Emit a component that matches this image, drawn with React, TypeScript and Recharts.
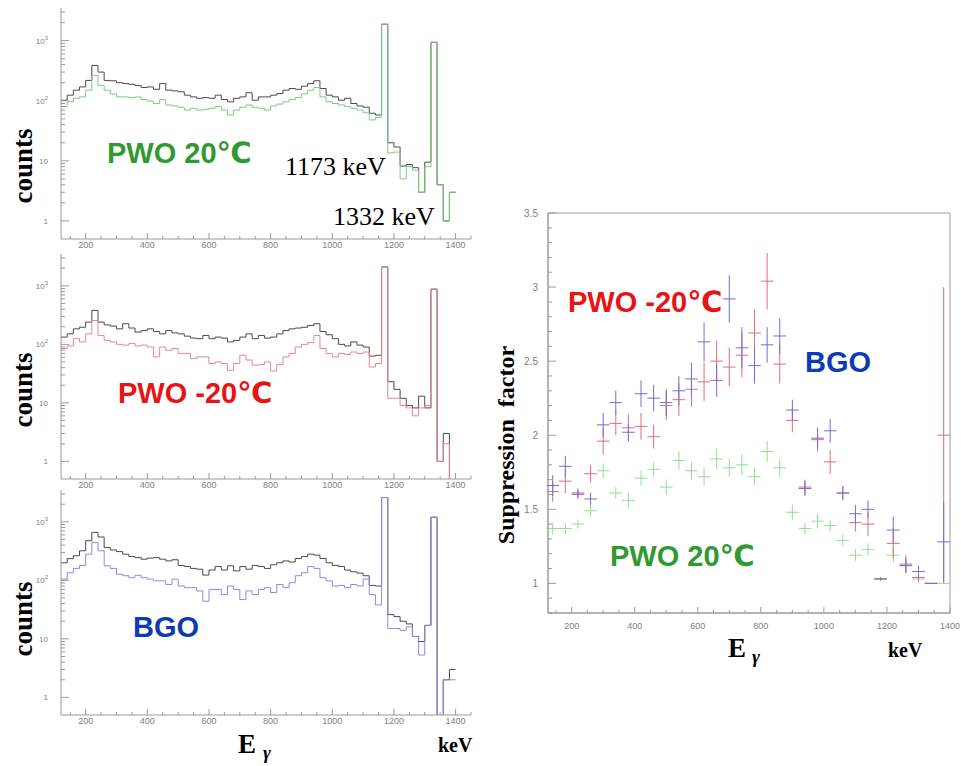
import React from "react";
import {
  LineChart,
  Line,
  XAxis,
  YAxis,
  ScatterChart,
  Scatter,
  ErrorBar,
  ReferenceArea,
} from "recharts";

// histogram bins, 20 keV wide: low edge of each bin
const binLow = [
  120, 140, 160, 180, 200, 220, 240, 260, 280, 300,
  320, 340, 360, 380, 400, 420, 440, 460, 480, 500,
  520, 540, 560, 580, 600, 620, 640, 660, 680, 700,
  720, 740, 760, 780, 800, 820, 840, 860, 880, 900,
  920, 940, 960, 980, 1000, 1020, 1040, 1060, 1080, 1100,
  1120, 1140, 1160, 1180, 1200, 1220, 1240, 1260, 1280, 1300,
  1320, 1340, 1360, 1380,
];
const BIN_END = 1400;

// PWO 20°C panel: unsuppressed (grey) and suppressed (green)
const pwoWarmRaw = [
  102, 124, 150, 170, 218, 387, 300, 218, 215, 200,
  193, 188, 180, 166, 170, 155, 193, 150, 146, 141,
  124, 116, 110, 113, 110, 124, 105, 96, 110, 116,
  136, 102, 116, 116, 124, 132, 150, 160, 155, 175,
  193, 215, 160, 124, 116, 102, 110, 90, 82, 78,
  62, 58, 1880, 20, 17, 8.2, 8.7, 7.7, 3, 9.5,
  940, 4, 1, 3,
];
const pwoWarmSup = [
  80, 96, 110, 116, 150, 265, 180, 150, 130, 116,
  116, 113, 116, 105, 99, 90, 105, 85, 82, 78,
  70, 75, 70, 72, 75, 80, 70, 58, 70, 78,
  85, 78, 75, 70, 82, 88, 96, 105, 113, 130,
  150, 166, 116, 96, 90, 85, 80, 75, 70, 63,
  48, 53, 1880, 13.5, 14, 5, 8, 7, 3, 8,
  940, 4, 1, 3,
];

// PWO -20°C panel
const pwoColdRaw = [
  133, 151, 184, 196, 240, 380, 240, 215, 205, 184,
  225, 190, 162, 172, 184, 166, 151, 172, 157, 151,
  138, 128, 125, 142, 125, 133, 128, 110, 117, 133,
  151, 125, 142, 128, 133, 151, 172, 184, 190, 196,
  210, 225, 166, 146, 125, 100, 94, 110, 97, 90,
  63, 65, 2100, 23, 17, 12, 9, 8.2, 13, 8.2,
  880, 1, 3, 0,
];
const pwoColdSup = [
  85, 94, 125, 110, 151, 255, 142, 117, 110, 100,
  97, 103, 94, 97, 90, 61, 90, 79, 85, 70,
  70, 57, 61, 61, 47, 50, 47, 36, 47, 65,
  54, 44, 45, 50, 35, 45, 61, 70, 90, 100,
  107, 142, 85, 70, 61, 70, 67, 74, 70, 74,
  41, 47, 2100, 12, 12, 9, 8.2, 6, 8.2, 9,
  880, 1, 2, 0,
];

// BGO panel
const bgoRaw = [
  200, 235, 263, 320, 475, 660, 550, 365, 330, 310,
  280, 255, 245, 230, 240, 245, 230, 215, 225, 180,
  172, 160, 155, 123, 150, 172, 150, 177, 145, 172,
  155, 180, 172, 160, 185, 200, 215, 206, 236, 255,
  280, 270, 236, 200, 180, 172, 150, 140, 133, 120,
  82, 80, 2600, 26, 24, 20, 18, 11, 9, 17,
  1200, 0, 2, 3,
];
const bgoSup = [
  105, 135, 160, 180, 280, 445, 320, 177, 160, 127,
  120, 111, 122, 111, 105, 98, 98, 85, 105, 80,
  75, 75, 66, 44, 70, 70, 57, 80, 70, 47,
  66, 57, 70, 75, 62, 85, 75, 91, 120, 135,
  172, 160, 111, 98, 80, 82, 75, 85, 80, 105,
  57, 38, 2600, 15, 15, 14, 16, 11, 5.3, 17,
  1200, 0, 2, 2,
];

// suppression factor, 40 keV bins
const sfEnergy = [
  140, 180, 220, 260, 300, 340, 380, 420, 460, 500,
  540, 580, 620, 660, 700, 740, 780, 820, 860, 900,
  940, 980, 1020, 1060, 1100, 1140, 1180, 1220, 1260, 1300,
  1340, 1380,
];
const BIN_HALF = 20;
const sfPwoCold = [
  1.62, 1.69, 1.6, 1.74, 1.96, 2.08, 2.05, 2.06, 1.99, 2.2,
  2.24, 2.31, 2.36, 2.5, 2.46, 2.54, 2.69, 3.04, 2.48, 2.1,
  1.65, 1.97, 1.82, 1.61, 1.41, 1.4, 1.03, 1.27, 1.13, 1.04,
  1.0, 2.0,
];
const sfPwoColdErr = [
  0.07, 0.08, 0.03, 0.06, 0.09, 0.08, 0.09, 0.09, 0.08, 0.1,
  0.11, 0.12, 0.13, 0.14, 0.13, 0.15, 0.16, 0.19, 0.13, 0.08,
  0.05, 0.08, 0.08, 0.05, 0.06, 0.08, 0.01, 0.1, 0.06, 0.03,
  0, 1.0,
];
const sfBgo = [
  1.66, 1.79, 1.61, 1.57, 2.07, 2.22, 2.02, 2.28, 2.25, 2.22,
  2.3, 2.38, 2.63, 2.37, 2.92, 2.59, 2.47, 2.61, 2.67, 2.17,
  1.64, 1.98, 2.03, 1.61, 1.47, 1.5, 1.03, 1.36, 1.12, 1.08,
  1.0, 1.28,
];
const sfBgoErr = [
  0.07, 0.07, 0.03, 0.04, 0.08, 0.08, 0.06, 0.09, 0.09, 0.09,
  0.1, 0.11, 0.13, 0.11, 0.16, 0.14, 0.12, 0.12, 0.12, 0.07,
  0.05, 0.07, 0.08, 0.04, 0.06, 0.06, 0.01, 0.09, 0.05, 0.04,
  0, 0.27,
];
const sfPwoWarm = [
  1.37, 1.37, 1.4, 1.49, 1.76, 1.61, 1.56, 1.71, 1.77, 1.65,
  1.83, 1.76, 1.72, 1.84, 1.78, 1.8, 1.72, 1.89, 1.78, 1.48,
  1.37, 1.42, 1.39, 1.29, 1.19, 1.23, 1.03, 1.19, 1.12, 1.03,
  1.0, 1.0,
];
const sfPwoWarmErr = [
  0.04, 0.04, 0.03, 0.04, 0.05, 0.04, 0.05, 0.05, 0.05, 0.05,
  0.06, 0.06, 0.06, 0.07, 0.06, 0.07, 0.06, 0.07, 0.06, 0.05,
  0.04, 0.05, 0.04, 0.04, 0.04, 0.04, 0.01, 0.05, 0.04, 0.02,
  0, 0,
];

// axis ticks
const energyTicks = [
  150, 200, 250, 300, 350, 400, 450, 500, 550, 600, 650, 700, 750, 800,
  850, 900, 950, 1000, 1050, 1100, 1150, 1200, 1250, 1300, 1350, 1400, 1450,
];
const countTicks = [
  1, 2, 3, 4, 5, 6, 7, 8, 9,
  10, 20, 30, 40, 50, 60, 70, 80, 90,
  100, 200, 300, 400, 500, 600, 700, 800, 900,
  1000, 2000, 3000,
];
const factorTicks = [
  0.8, 0.9, 1, 1.1, 1.2, 1.3, 1.4, 1.5, 1.6, 1.7, 1.8, 1.9, 2,
  2.1, 2.2, 2.3, 2.4, 2.5, 2.6, 2.7, 2.8, 2.9, 3, 3.1, 3.2, 3.3, 3.4, 3.5,
];

const GREY = "#4a4a4a";
const AXIS = "#9a9a9a";
const TICK_TEXT = "#808080";
const SANS = "'Liberation Sans', Arial, 'DejaVu Sans', sans-serif";
const SERIF = "'Liberation Serif', 'Times New Roman', serif";

const EMPTY = 0.05; // zero-count bins fall below the axis and get clipped

function histRows(raw: number[], sup: number[]) {
  const last = binLow.length - 1;
  const fix = (v: number) => (v > 0 ? v : EMPTY);
  const rows = binLow.map((e, i) => ({ e, raw: fix(raw[i]), sup: fix(sup[i]) }));
  rows.push({ e: BIN_END, raw: fix(raw[last]), sup: fix(sup[last]) });
  return rows;
}

function sfRows(vals: number[], errs: number[]) {
  return sfEnergy.map((e, i) => ({ e, v: vals[i], ex: BIN_HALF, ey: errs[i] }));
}

function EnergyTick(props: any) {
  const { x, y, payload, labelGap } = props;
  const v = payload.value as number;
  const major = v % 200 === 0;
  return (
    <g>
      <line x1={x} x2={x} y1={y} y2={y - (major ? 6 : 3)} stroke={AXIS} />
      {major && (
        <text x={x} y={y + labelGap} textAnchor="middle" fontSize={9} fill={TICK_TEXT} fontFamily={SANS}>
          {v}
        </text>
      )}
    </g>
  );
}

function CountTick(props: any) {
  const { x, y, payload } = props;
  const v = payload.value as number;
  const lg = Math.log10(v);
  const major = Math.abs(lg - Math.round(lg)) < 1e-6;
  const exp = Math.round(lg);
  return (
    <g>
      <line x1={x} x2={x + (major ? 8 : 4)} y1={y} y2={y} stroke={AXIS} />
      {major && (
        <text x={x - 13} y={y + 3} textAnchor="end" fontSize={8} fill={TICK_TEXT} fontFamily={SANS}>
          {exp === 0 ? "1" : exp === 1 ? "10" : (
            <>
              10<tspan dy={-4} fontSize={6}>{exp}</tspan>
            </>
          )}
        </text>
      )}
    </g>
  );
}

function FactorTick(props: any) {
  const { x, y, payload } = props;
  const v = payload.value as number;
  const major = Math.abs(v * 2 - Math.round(v * 2)) < 1e-6;
  return (
    <g>
      <line x1={x} x2={x + (major ? 8 : 4)} y1={y} y2={y} stroke={AXIS} />
      {major && (
        <text x={x - 10} y={y + 4} textAnchor="end" fontSize={10} fill={TICK_TEXT} fontFamily={SANS}>
          {v}
        </text>
      )}
    </g>
  );
}

const NoMark = () => <g />;

type PanelProps = {
  top: number;
  height: number;
  marginTop: number;
  axisHeight: number;
  raw: number[];
  sup: number[];
  color: string;
};

function SpectrumPanel({ top, height, marginTop, axisHeight, raw, sup, color }: PanelProps) {
  const rows = histRows(raw, sup);
  return (
    <div style={{ position: "absolute", left: 0, top }}>
      <LineChart width={480} height={height} data={rows} margin={{ top: marginTop, right: 9, bottom: 0, left: 0 }}>
        <XAxis
          dataKey="e"
          type="number"
          domain={[120, 1450]}
          ticks={energyTicks}
          interval={0}
          tickSize={0}
          tickMargin={0}
          tickLine={false}
          tick={<EnergyTick labelGap={9} />}
          axisLine={{ stroke: AXIS }}
          height={axisHeight}
          allowDataOverflow
        />
        <YAxis
          type="number"
          scale="log"
          domain={[0.5, 3500]}
          ticks={countTicks}
          interval={0}
          tickSize={0}
          tickMargin={0}
          tickLine={false}
          tick={<CountTick />}
          axisLine={{ stroke: AXIS }}
          width={61}
          allowDataOverflow
        />
        <Line dataKey="raw" type="stepAfter" stroke={GREY} strokeWidth={1} dot={false} isAnimationActive={false} />
        <Line dataKey="sup" type="stepAfter" stroke={color} strokeWidth={1} dot={false} isAnimationActive={false} />
      </LineChart>
    </div>
  );
}

export default function App() {
  return (
    <div style={{ position: "absolute", left: 0, top: 0, width: 961, height: 766, background: "#fff", overflow: "hidden" }}>
      <SpectrumPanel top={0} height={262} marginTop={8} axisHeight={23} raw={pwoWarmRaw} sup={pwoWarmSup} color="#7ccc7c" />
      <SpectrumPanel top={240} height={262} marginTop={14} axisHeight={23} raw={pwoColdRaw} sup={pwoColdSup} color="#e88888" />
      <SpectrumPanel top={480} height={260} marginTop={10} axisHeight={25} raw={bgoRaw} sup={bgoSup} color="#8a8ae6" />

      <div style={{ position: "absolute", left: 490, top: 200 }}>
        <ScatterChart width={470} height={460} margin={{ top: 13, right: 10, bottom: 0, left: 0 }}>
          <XAxis
            dataKey="e"
            type="number"
            domain={[125, 1400]}
            ticks={energyTicks.filter((t) => t <= 1400)}
            interval={0}
            tickSize={0}
            tickMargin={0}
            tickLine={false}
            tick={<EnergyTick labelGap={16} />}
            axisLine={{ stroke: AXIS }}
            height={47}
            allowDataOverflow
          />
          <YAxis
            dataKey="v"
            type="number"
            domain={[0.8, 3.5]}
            ticks={factorTicks}
            interval={0}
            tickSize={0}
            tickMargin={0}
            tickLine={false}
            tick={<FactorTick />}
            axisLine={{ stroke: AXIS }}
            width={58}
            allowDataOverflow
          />
          <ReferenceArea x1={125} x2={1400} y1={0.8} y2={3.5} fill="none" stroke={AXIS} strokeOpacity={1} />
          <Scatter data={sfRows(sfPwoWarm, sfPwoWarmErr)} shape={NoMark} isAnimationActive={false}>
            <ErrorBar dataKey="ey" direction="y" width={0} stroke="#8ee08e" strokeWidth={1} />
            <ErrorBar dataKey="ex" direction="x" width={0} stroke="#8ee08e" strokeWidth={1} />
          </Scatter>
          <Scatter data={sfRows(sfPwoCold, sfPwoColdErr)} shape={NoMark} isAnimationActive={false}>
            <ErrorBar dataKey="ey" direction="y" width={0} stroke="#e46a7c" strokeWidth={1} />
            <ErrorBar dataKey="ex" direction="x" width={0} stroke="#e46a7c" strokeWidth={1} />
          </Scatter>
          <Scatter data={sfRows(sfBgo, sfBgoErr)} shape={NoMark} isAnimationActive={false}>
            <ErrorBar dataKey="ey" direction="y" width={0} stroke="#6e6ed8" strokeWidth={1} />
            <ErrorBar dataKey="ex" direction="x" width={0} stroke="#6e6ed8" strokeWidth={1} />
          </Scatter>
        </ScatterChart>
      </div>

      <svg width={961} height={766} style={{ position: "absolute", left: 0, top: 0, pointerEvents: "none" }}>
        {/* y titles */}
        {[166, 390, 619].map((cy) => (
          <text key={cy} transform={`translate(32,${cy}) rotate(-90)`} textAnchor="middle" fontFamily={SERIF} fontWeight="bold" fontSize={27} fill="#000">
            counts
          </text>
        ))}
        <text transform="translate(514,445) rotate(-90)" textAnchor="middle" fontFamily={SERIF} fontWeight="bold" fontSize={24} fill="#000" xmlSpace="preserve">
          Suppression  factor
        </text>

        {/* series labels */}
        <text x={107} y={163} fontFamily={SANS} fontWeight="bold" fontSize={29} fill="#2f9a2f">PWO 20℃</text>
        <text x={118} y={403} fontFamily={SANS} fontWeight="bold" fontSize={29} fill="#e61414">PWO -20℃</text>
        <text x={133} y={637} fontFamily={SANS} fontWeight="bold" fontSize={29} fill="#0c3cb4">BGO</text>
        <text x={568} y={312} fontFamily={SANS} fontWeight="bold" fontSize={29} fill="#e61414">PWO -20℃</text>
        <text x={805} y={372} fontFamily={SANS} fontWeight="bold" fontSize={29} fill="#0c3cb4">BGO</text>
        <text x={610} y={566} fontFamily={SANS} fontWeight="bold" fontSize={29} fill="#2f9a2f">PWO 20℃</text>

        {/* peak annotations */}
        <text x={285} y={175} fontFamily={SERIF} fontSize={26} fill="#000">1173 keV</text>
        <text x={333} y={225} fontFamily={SERIF} fontSize={26} fill="#000">1332 keV</text>

        {/* x titles */}
        <text x={238} y={753} fontFamily={SERIF} fontWeight="bold" fontSize={27} fill="#000">E</text>
        <text x={263} y={759} fontFamily={SERIF} fontWeight="bold" fontStyle="italic" fontSize={19} fill="#000">γ</text>
        <text x={438} y={752} fontFamily={SERIF} fontWeight="bold" fontSize={20} fill="#000">keV</text>
        <text x={728} y={657} fontFamily={SERIF} fontWeight="bold" fontSize={27} fill="#000">E</text>
        <text x={752} y={663} fontFamily={SERIF} fontWeight="bold" fontStyle="italic" fontSize={19} fill="#000">γ</text>
        <text x={888} y={657} fontFamily={SERIF} fontWeight="bold" fontSize={20} fill="#000">keV</text>
      </svg>
    </div>
  );
}
